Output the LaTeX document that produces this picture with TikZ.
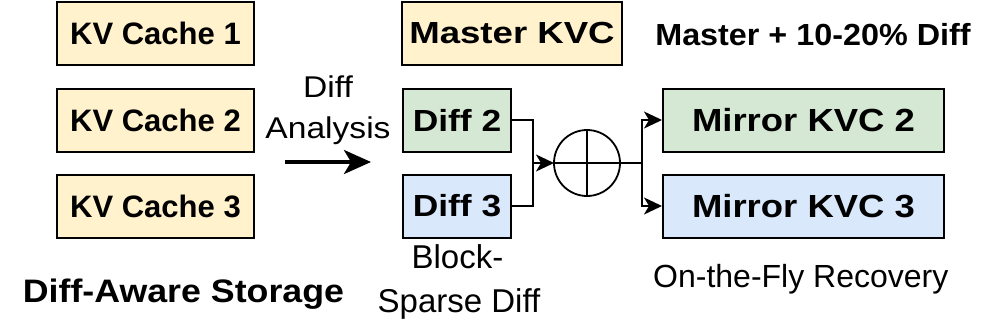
\documentclass[tikz,border=0pt]{standalone}
\usepackage{fontspec}
\setmainfont{Liberation Sans}
\usepackage{graphicx}
\usetikzlibrary{arrows.meta}
\definecolor{cyel}{HTML}{FFF2CC}
\definecolor{cgrn}{HTML}{D5E8D4}
\definecolor{cblu}{HTML}{DAE8FC}
\newcommand{\sxt}[2]{\scalebox{#1}[1]{#2}}
\begin{document}
\begin{tikzpicture}[x=1pt,y=-1pt,
  box/.style={draw=black, line width=2pt, rectangle, inner sep=0pt, minimum height=63pt},
  bfont/.style={font=\bfseries\fontsize{30.5}{36}\selectfont},
  lbl/.style={inner sep=0pt, anchor=base},
  conn/.style={line width=1.8pt},
  tip/.style={-{Stealth[length=18pt,width=17pt,inset=5pt]}}
]
\useasboundingbox (0,0) rectangle (996,324);
% left column
\node[box, bfont, fill=cyel, minimum width=197pt] (kv1) at (155.5,33) {\fontsize{31}{36}\selectfont KV Cache 1};
\node[box, bfont, fill=cyel, minimum width=197pt] (kv2) at (155.5,120) {\fontsize{31}{36}\selectfont KV Cache 2};
\node[box, bfont, fill=cyel, minimum width=197pt] (kv3) at (155.5,206) {\fontsize{31}{36}\selectfont KV Cache 3};
\node[lbl, font=\bfseries\fontsize{32.5}{38}\selectfont] (storage) at (183.5,302) {\sxt{1.1}{Diff-Aware Storage}};
% diff analysis
\node[lbl, font=\fontsize{30}{36}\selectfont] (da1) at (328,97) {\sxt{1.12}{Diff}};
\node[lbl, font=\fontsize{30}{36}\selectfont] (da2) at (328,138) {\sxt{1.12}{Analysis}};
\coordinate (a1) at (285,162);
\coordinate (a2) at (371,162);
\draw[line width=3.5pt, -{Stealth[length=27pt,width=24pt,inset=7pt]}] (a1) -- (a2);
% middle column
\node[box, bfont, fill=cyel, minimum width=220pt] (master) at (512,33) {\sxt{1.2}{Master KVC}};
\node[box, bfont, fill=cgrn, minimum width=108pt] (d2) at (457,120) {\sxt{1.16}{Diff 2}};
\node[box, bfont, fill=cblu, minimum width=108pt] (d3) at (457,206) {\sxt{1.16}{Diff 3}};
\node[lbl, font=\fontsize{33}{40}\selectfont] (bs1) at (457.5,268) {Block-};
\node[lbl, font=\fontsize{33}{40}\selectfont] (bs2) at (459,312) {Sparse Diff};
% sum
\node[draw, circle, line width=1.8pt, minimum size=66pt, inner sep=0pt, outer sep=0pt] (sum) at (587,163) {};
\draw[conn] (sum.north) -- (sum.south);
\draw[conn] (sum.west) -- (sum.east);
\coordinate (j1) at (533,163);
\draw[conn] (d2.east) -| (j1);
\draw[conn] (d3.east) -| (j1);
\draw[conn, tip] (j1) -- (sum.west);
% right column
\node[lbl, font=\bfseries\fontsize{30.5}{36}\selectfont] (note) at (813,45) {\sxt{1.06}{Master + 10-20\% Diff}};
\node[box, fill=cgrn, minimum width=281pt, font=\bfseries\fontsize{32}{38}\selectfont] (m2) at (803.5,120) {\sxt{1.14}{Mirror KVC 2}};
\node[box, fill=cblu, minimum width=281pt, font=\bfseries\fontsize{32}{38}\selectfont] (m3) at (803.5,206) {\sxt{1.14}{Mirror KVC 3}};
\coordinate (j2) at (642,163);
\draw[conn] (sum.east) -- (j2);
\draw[conn, tip] (j2) |- (m2.west);
\draw[conn, tip] (j2) |- (m3.west);
\node[lbl, anchor=base west, font=\fontsize{32}{38}\selectfont] (otf) at (653,287) {On-the-Fly Recovery};
\end{tikzpicture}
\end{document}
